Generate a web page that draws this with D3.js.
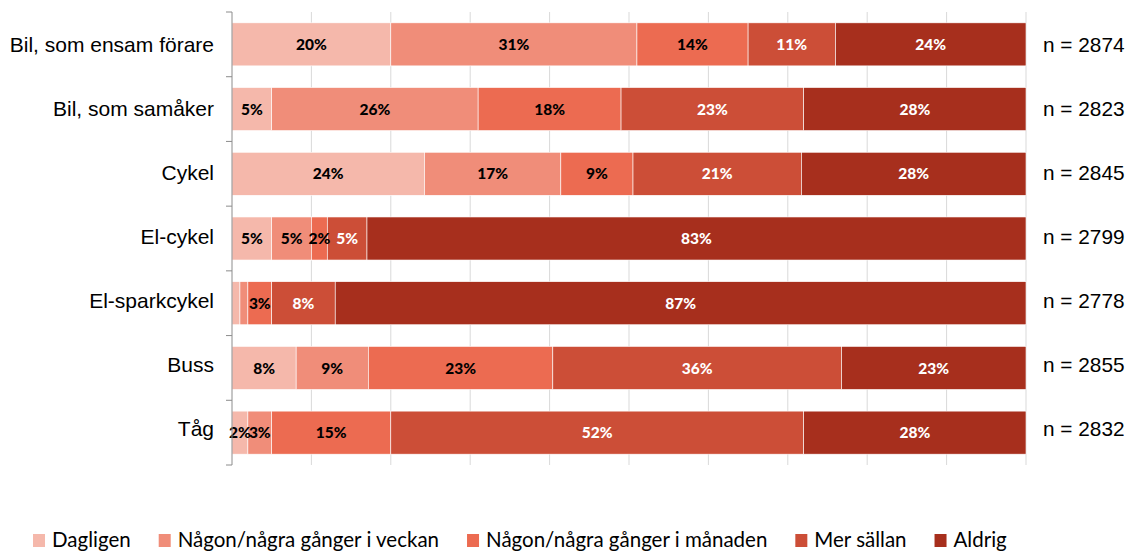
<!DOCTYPE html>
<html><head><meta charset="utf-8">
<script src="https://cdn.jsdelivr.net/npm/d3@7"></script>
<style>body{margin:0;background:#fff}</style>
</head><body><svg id="c" width="1130" height="553"></svg>
<script>
const categories = ["Bil, som ensam förare","Bil, som samåker","Cykel","El-cykel","El-sparkcykel","Buss","Tåg"];
const nLabels = ["n = 2874","n = 2823","n = 2845","n = 2799","n = 2778","n = 2855","n = 2832"];
const seriesNames = ["Dagligen","Någon/några gånger i veckan","Någon/några gånger i månaden","Mer sällan","Aldrig"];
const dagligen  = [20, 5, 24, 5, 1, 8, 2];
const veckan    = [31, 26, 17, 5, 1, 9, 3];
const manaden   = [14, 18, 9, 2, 3, 23, 15];
const merSallan = [11, 23, 21, 5, 8, 36, 52];
const aldrig    = [24, 28, 28, 83, 87, 23, 28];
const colors = ["#F5B8AB","#F08D79","#EC6B51","#CC4E37","#A72F1D"];
const textColors = ["#000","#000","#000","#fff","#fff"];
const xTicks = [0,0.1,0.2,0.3,0.4,0.5,0.6,0.7,0.8,0.9,1];

const seriesVals = [dagligen, veckan, manaden, merSallan, aldrig];
const rows = categories.map((c,i)=>{const o={cat:c}; seriesNames.forEach((s,j)=>o[s]=seriesVals[j][i]); return o;});

const svg = d3.select("#c");
const L=232, R=1026, T=12, B=465;
const x = d3.scaleLinear().domain([0,1]).range([L,R]);
const y = d3.scaleBand().domain(categories).range([T,B]).paddingInner(0.335).paddingOuter(0.1675);
const yb = d3.scaleBand().domain(categories).range([T,B]);
const yl = d3.scaleBand().domain(categories).range([13,461]);

// gridlines
svg.append("g").selectAll("line").data(xTicks.slice(1)).join("line")
  .attr("x1",d=>x(d)).attr("x2",d=>x(d)).attr("y1",T).attr("y2",B)
  .attr("stroke","#d9d9d9").attr("stroke-width",1);

const stack = d3.stack().keys(seriesNames).offset(d3.stackOffsetExpand);
const stacked = stack(rows);

const g = svg.append("g");
stacked.forEach((layer,j)=>{
  g.append("g").selectAll("rect").data(layer).join("rect")
    .attr("x",d=>x(d[0])).attr("width",d=>x(d[1])-x(d[0]))
    .attr("y",d=>y(d.data.cat)).attr("height",y.bandwidth())
    .attr("fill",colors[j]).attr("stroke","#fff").attr("stroke-width",0.6);
});
stacked.forEach((layer,j)=>{
  g.append("g").selectAll("text").data(layer.filter(d=>d.data[seriesNames[j]]>=2)).join("text")
    .attr("x",d=>(x(d[0])+x(d[1]))/2).attr("y",d=>y(d.data.cat)+y.bandwidth()/2)
    .attr("dy","0.36em").attr("text-anchor","middle")
    .attr("font-family","Lato, 'Open Sans', sans-serif").attr("font-weight","900").attr("font-size",15.5)
    .attr("fill",textColors[j]).text(d=>d.data[seriesNames[j]]+"%");
});

// y axis
const ax = svg.append("g");
ax.append("line").attr("x1",L).attr("x2",L).attr("y1",T).attr("y2",B).attr("stroke","#8c8c8c");
const bounds = categories.map(c=>yb(c)).concat([B]);
ax.selectAll("line.t").data(bounds).join("line").attr("class","t")
  .attr("x1",L-6).attr("x2",L).attr("y1",d=>d).attr("y2",d=>d).attr("stroke","#8c8c8c");

svg.append("g").selectAll("text").data(categories).join("text")
  .attr("x",214).attr("y",d=>yl(d)+yl.bandwidth()/2).attr("dy","0.35em").attr("text-anchor","end")
  .attr("font-family","'Liberation Sans', Arial, sans-serif").attr("font-size",21).attr("fill","#000").text(d=>d);

svg.append("g").selectAll("text").data(nLabels).join("text")
  .attr("x",1043).attr("y",(d,i)=>yl(categories[i])+yl.bandwidth()/2).attr("dy","0.35em")
  .attr("font-family","'Liberation Sans', Arial, sans-serif").attr("font-size",20.8).attr("fill","#000").text(d=>d);

// legend
const lg = svg.append("g");
let lx = 33;
seriesNames.forEach((s,j)=>{
  lg.append("rect").attr("x",lx).attr("y",534).attr("width",12).attr("height",13).attr("fill",colors[j]);
  const t = lg.append("text").attr("x",lx+19).attr("y",547)
    .attr("font-family","Lato, 'Open Sans', sans-serif").attr("font-size",20.5).attr("fill","#000").text(s);
  lx += 19 + t.node().getComputedTextLength() + 28;
});
</script></body></html>
